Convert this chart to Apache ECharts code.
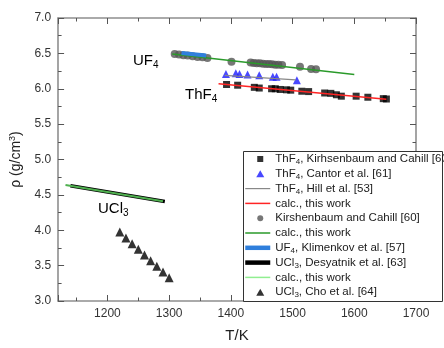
<!DOCTYPE html>
<html><head><meta charset="utf-8">
<script src="https://cdn.jsdelivr.net/npm/echarts@6/dist/echarts.min.js"></script>
<style>html,body{margin:0;padding:0;background:#fff}#c{width:444px;height:348px}</style>
</head><body><div id="c"></div>
<script>
// ---- tick labels ----
const xTickLabels = [1200, 1300, 1400, 1500, 1600, 1700];
const yTickLabels = ['3.0','3.5','4.0','4.5','5.0','5.5','6.0','6.5','7.0'];

// ---- ThF4 ----
const thf4KirshT   = [1393, 1411, 1438, 1446, 1466, 1472, 1480, 1490, 1497, 1515, 1526, 1552, 1562, 1571, 1579, 1603, 1622, 1647, 1652];
const thf4KirshRho = [6.06, 6.05, 6.02, 6.01, 6.00, 6.00, 5.99, 5.985, 5.98, 5.965, 5.96, 5.94, 5.935, 5.915, 5.895, 5.895, 5.88, 5.86, 5.855];
const thf4CantorT   = [1392, 1408, 1414, 1427, 1446, 1468, 1474, 1507];
const thf4CantorRho = [6.21, 6.22, 6.21, 6.20, 6.19, 6.17, 6.17, 6.12];
const thf4HillT   = [1390, 1505];
const thf4HillRho = [6.19, 6.125];
const thf4CalcT   = [1380, 1652];
const thf4CalcRho = [6.07, 5.85];

// ---- UF4 ----
const uf4KirshT   = [1309, 1316, 1323, 1330, 1338, 1346, 1354, 1362, 1401, 1432, 1437, 1442, 1447, 1452, 1457, 1462, 1467, 1472, 1477, 1483, 1512, 1530, 1538];
const uf4KirshRho = [6.49, 6.485, 6.475, 6.47, 6.46, 6.45, 6.445, 6.435, 6.38, 6.37, 6.365, 6.36, 6.36, 6.355, 6.35, 6.35, 6.345, 6.34, 6.34, 6.335, 6.31, 6.28, 6.275];
const uf4CalcT   = [1305, 1600];
const uf4CalcRho = [6.49, 6.20];
const uf4KlimT   = [1320, 1360];
const uf4KlimRho = [6.505, 6.47];

// ---- UCl3 ----
const ucl3DesT   = [1140, 1293];
const ucl3DesRho = [4.63, 4.405];
const ucl3CalcT   = [1132, 1290];
const ucl3CalcRho = [4.64, 4.41];
const ucl3ChoT   = [1220, 1230, 1240, 1250, 1260, 1270, 1280, 1290, 1300];
const ucl3ChoRho = [3.975, 3.89, 3.81, 3.73, 3.65, 3.57, 3.49, 3.41, 3.33];

// ---- legend ----
const legendOrder = ['thf4Kirsh','thf4Cantor','thf4Hill','thf4Calc','uf4Kirsh','uf4Calc','uf4Klim','ucl3Des','ucl3Calc','ucl3Cho'];
const lineSeriesNames = ['thf4Hill','thf4Calc','uf4Calc','uf4Klim','ucl3Des','ucl3Calc'];
const legendText = {
  thf4Kirsh: '{a|ThF}{s|4}{a|, Kirhsenbaum and Cahill [60]}',
  thf4Cantor: '{a|ThF}{s|4}{a|, Cantor et al. [61]}',
  thf4Hill: '{a|ThF}{s|4}{a|, Hill et al. [53]}',
  thf4Calc: '{a|calc., this work}',
  uf4Kirsh: '{a|Kirshenbaum and Cahill [60]}',
  uf4Calc: '{a|calc., this work}',
  uf4Klim: '{a|UF}{s|4}{a|, Klimenkov et al. [57]}',
  ucl3Des: '{a|UCl}{s|3}{a|, Desyatnik et al. [63]}',
  ucl3Calc: '{a|calc., this work}',
  ucl3Cho: '{a|UCl}{s|3}{a|, Cho et al. [64]}'
};
// legend marker shapes drawn inside a 25x7 icon box (anchored corners keep the aspect)
const ICON_SQUARE = 'path://M0,0M25,7M12,0.5L18,0.5L18,6.5L12,6.5Z';
const ICON_TRI = 'path://M0,0M25,7M11,7L15,0L19,7Z';
const ICON_CIRCLE = 'path://M0,0M25,7M18,3.5A3,3 0 1 1 12,3.5A3,3 0 1 1 18,3.5Z';
const legendIcons = {thf4Kirsh: ICON_SQUARE, thf4Cantor: ICON_TRI, uf4Kirsh: ICON_CIRCLE, ucl3Cho: ICON_TRI};
const legendLineWidth = {uf4Klim: 4.5, ucl3Des: 4.5, thf4Hill: 1.2, thf4Calc: 1.5, uf4Calc: 1.5, ucl3Calc: 1.5};

const FONT = "'Liberation Sans', Arial, sans-serif";
const pairs = (xs, ys) => xs.map((x, i) => [x, ys[i]]);

const chart = echarts.init(document.getElementById('c'), null, {renderer: 'canvas'});

const tickCommon = {
  axisLine: {show: true, onZero: false, lineStyle: {color: '#8e8e8e', width: 1.6}},
  axisTick: {show: true, inside: true, length: 6, lineStyle: {color: '#555', width: 1}},
  minorTick: {show: true, splitNumber: 2, length: 3.5, lineStyle: {color: '#555', width: 1}},
  splitLine: {show: false}
};

const legendData = legendOrder.map(n => {
  const item = {name: n};
  if (lineSeriesNames.indexOf(n) >= 0) {
    item.itemStyle = {opacity: 0};
    item.lineStyle = {width: legendLineWidth[n]};
    if (n === 'ucl3Calc') item.lineStyle.color = '#90ee90';
  }
  if (legendIcons[n]) item.icon = legendIcons[n];
  return item;
});

const option = {
  animation: false,
  backgroundColor: '#fff',
  grid: {left: 54, right: 28, top: 18, bottom: 40},
  xAxis: [
    Object.assign({
      type: 'value', min: 1120, max: 1700, position: 'bottom',
      name: 'T/K', nameLocation: 'middle', nameGap: 27,
      nameTextStyle: {fontFamily: FONT, fontSize: 15, color: '#222'},
      axisLabel: {
        showMinLabel: false, margin: 7, fontFamily: FONT, fontSize: 12, color: '#333',
        formatter: v => (xTickLabels.indexOf(Math.round(v)) >= 0 ? String(Math.round(v)) : '')
      }
    }, tickCommon),
    Object.assign({
      type: 'value', min: 1120, max: 1700, position: 'top',
      axisLabel: {show: false}
    }, tickCommon)
  ],
  yAxis: [
    Object.assign({
      type: 'value', min: 3, max: 7, interval: 0.5, position: 'left',
      name: '{a|ρ (g/cm}{p|3}{a|)}', nameLocation: 'middle', nameGap: 27,
      nameTextStyle: {fontFamily: FONT, fontSize: 14, color: '#222',
        rich: {a: {fontFamily: FONT, fontSize: 14, color: '#222', lineHeight: 18},
               p: {fontFamily: FONT, fontSize: 9, color: '#222', padding: [0, 0, 8, 0]}}},
      axisLabel: {margin: 7, fontFamily: FONT, fontSize: 12, color: '#333',
        formatter: v => { const s = v.toFixed(1); return yTickLabels.indexOf(s) >= 0 ? s : ''; }}
    }, tickCommon),
    Object.assign({
      type: 'value', min: 3, max: 7, interval: 0.5, position: 'right',
      axisLabel: {show: false}
    }, tickCommon)
  ],
  legend: {
    orient: 'vertical', left: 243, top: 151, padding: [1, 0, 0, 0],
    itemGap: 0.8, itemWidth: 25, itemHeight: 7, z: 20, selectedMode: false,
    symbolKeepAspect: true,
    data: legendData,
    formatter: n => legendText[n],
    textStyle: {
      fontFamily: FONT, fontSize: 11.5, color: '#1a1a1a', lineHeight: 14,
      rich: {
        a: {fontFamily: FONT, fontSize: 11.5, color: '#1a1a1a', lineHeight: 14},
        s: {fontFamily: FONT, fontSize: 8, color: '#1a1a1a', padding: [6, 0, 0, 0]}
      }
    }
  },
  graphic: [
    {type: 'rect', z: 10, shape: {x: 243.5, y: 151.5, width: 199, height: 150},
     style: {fill: '#fff', stroke: '#333', lineWidth: 1}},
    {type: 'text', z: 5, x: 133, y: 61, style: {text: '{a|UF}{s|4}', verticalAlign: 'middle',
      rich: {a: {fontFamily: FONT, fontSize: 15, color: '#222', lineHeight: 18},
             s: {fontFamily: FONT, fontSize: 10, color: '#222', padding: [8, 0, 0, 0]}}}},
    {type: 'text', z: 5, x: 185, y: 95, style: {text: '{a|ThF}{s|4}', verticalAlign: 'middle',
      rich: {a: {fontFamily: FONT, fontSize: 15, color: '#222', lineHeight: 18},
             s: {fontFamily: FONT, fontSize: 10, color: '#222', padding: [8, 0, 0, 0]}}}},
    {type: 'text', z: 5, x: 98, y: 209, style: {text: '{a|UCl}{s|3}', verticalAlign: 'middle',
      rich: {a: {fontFamily: FONT, fontSize: 15, color: '#222', lineHeight: 18},
             s: {fontFamily: FONT, fontSize: 10, color: '#222', padding: [8, 0, 0, 0]}}}}
  ],
  series: [
    {name: 'thf4Kirsh', type: 'scatter', symbol: 'rect', symbolSize: 7, color: '#000', z: 2,
     data: pairs(thf4KirshT, thf4KirshRho)},
    {name: 'thf4Cantor', type: 'scatter', symbol: 'triangle', symbolSize: 8, color: '#1a1aff', z: 2,
     data: pairs(thf4CantorT, thf4CantorRho)},
    {name: 'thf4Hill', type: 'line', symbol: 'none', color: '#888', lineStyle: {color: '#888', width: 1.2}, z: 3,
     data: pairs(thf4HillT, thf4HillRho)},
    {name: 'thf4Calc', type: 'line', symbol: 'none', color: '#ff2424', lineStyle: {color: '#ff2424', width: 1.5}, z: 3,
     data: pairs(thf4CalcT, thf4CalcRho)},
    {name: 'uf4Kirsh', type: 'scatter', symbol: 'circle', symbolSize: 8, color: '#555', z: 2,
     data: pairs(uf4KirshT, uf4KirshRho)},
    {name: 'uf4Calc', type: 'line', symbol: 'none', color: '#2a9a2a', lineStyle: {color: '#2a9a2a', width: 1.5}, z: 3,
     data: pairs(uf4CalcT, uf4CalcRho)},
    {name: 'uf4Klim', type: 'line', symbol: 'none', color: '#2f7fdc', lineStyle: {color: '#2f7fdc', width: 4}, z: 3,
     data: pairs(uf4KlimT, uf4KlimRho)},
    {name: 'ucl3Des', type: 'line', symbol: 'none', color: '#000', lineStyle: {color: '#000', width: 3.5}, z: 3,
     data: pairs(ucl3DesT, ucl3DesRho)},
    {name: 'ucl3Calc', type: 'line', symbol: 'none', color: '#4fb04f', lineStyle: {color: '#4fb04f', width: 2}, z: 4,
     data: pairs(ucl3CalcT, ucl3CalcRho)},
    {name: 'ucl3Cho', type: 'scatter', symbol: 'triangle', symbolSize: 9, color: '#000', z: 2,
     data: pairs(ucl3ChoT, ucl3ChoRho)}
  ]
};
chart.setOption(option);
</script></body></html>
